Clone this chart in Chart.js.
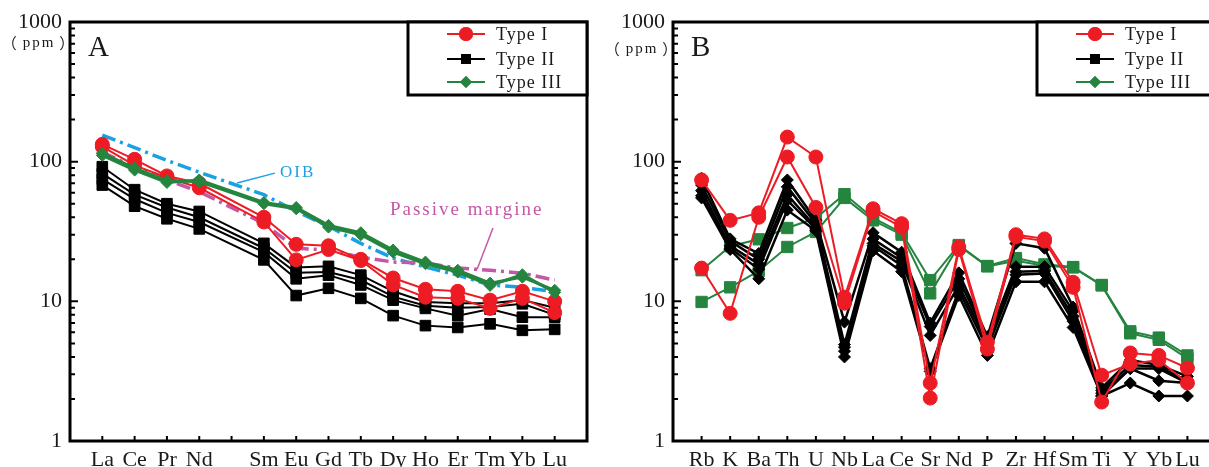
<!DOCTYPE html>
<html>
<head>
<meta charset="utf-8">
<script src="https://cdn.jsdelivr.net/npm/chart.js@4.4.1/dist/chart.umd.min.js"></script>
<style>
  html { margin: 0; padding: 0; overflow: hidden; background: #fff; }
  body { margin: 0; padding: 0; background: #fff; width: 1300px; height: 467px; position: relative; }
  #boxA { position: absolute; left: 0; top: 0; width: 600px; height: 467px; }
  #boxB { position: absolute; left: 600px; top: 0; width: 616px; height: 467px; }
  canvas { display: block; }
</style>
</head>
<body>
<div id="boxA"><canvas id="chartA" width="600" height="467" style="width:600px;height:467px"></canvas></div>
<div id="boxB"><canvas id="chartB" width="616" height="467" style="width:616px;height:467px"></canvas></div>
<script>
// ---- data: panel A (REE, chondrite normalised) ----
const reeLabels = ['La', 'Ce', 'Pr', 'Nd', '', 'Sm', 'Eu', 'Gd', 'Tb', 'Dy', 'Ho', 'Er', 'Tm', 'Yb', 'Lu'];

const typeIRee = [
  [133, 104, 79, 70, null, 40, 25.6, 25, 20, 14.7, 12.2, 11.8, 10.2, 11.8, 10.0],
  [128, 94, 77, 65, null, 37, 19.8, 23.5, 19.6, 13.1, 10.7, 10.5, 8.9, 10.5, 8.3]
];
const typeIIRee = [
  [92, 63, 50, 44, null, 26, 17.5, 17.8, 15.4, 11.8, 9.9, 9.7, 9.7, 10.2, 9.0],
  [82, 58, 47, 40, null, 24, 16, 16.2, 14.2, 10.8, 9.3, 9.0, 9.1, 9.6, 8.0],
  [75, 54, 43, 37, null, 22.5, 14.5, 15.4, 13.1, 10.2, 8.9, 7.9, 8.8, 7.7, 7.7],
  [68, 48, 39, 33, null, 19.8, 11, 12.4, 10.5, 7.9, 6.7, 6.5, 6.9, 6.2, 6.3]
];
const typeIIIRee = [
  [111, 87, 71, 74, null, 51, 47, 35, 31, 23.3, 19.1, 16.7, 13.5, 14.9, 12.0],
  [115, 90, 73, 72, null, 50, 46, 34, 30, 22.5, 18.6, 16.2, 13.0, 15.5, 11.6]
];
const oibRee = [155, 126, 102, 84, null, 58, 44, 34.5, 26, 20.4, 17.6, 15.4, 13.1, 12.6, 11.7];
const passiveRee = [117, 91, 74, 61, null, 36, 24, 23.3, 20.7, 19.1, 18.8, 17.3, 16.7, 15.9, 14.2];

// ---- data: panel B (trace elements) ----
const traceLabels = ['Rb', 'K', 'Ba', 'Th', 'U', 'Nb', 'La', 'Ce', 'Sr', 'Nd', 'P', 'Zr', 'Hf', 'Sm', 'Ti', 'Y', 'Yb', 'Lu'];

const typeITrace = [
  [74, 38, 43, 150, 108, 10.7, 46, 36, 2.6, 24.5, 5.1, 30, 28, 13.7, 2.96, 3.56, 3.8, 2.6],
  [17.3, 8.2, 40, 108, 47, 9.7, 44, 34, 2.03, 23.5, 4.55, 29, 27, 12.6, 1.9, 4.27, 4.1, 3.33]
];
const typeIITrace = [
  [76, 28, 22, 74, 38, 7.1, 31, 22.5, 7.0, 16, 5.6, 26, 24, 9.1, 2.4, 3.8, 3.5, 2.9],
  [68, 27, 20, 66, 36, 4.9, 28, 20.5, 6.6, 14.5, 5.3, 17.7, 17.7, 8.5, 2.3, 3.5, 3.4, 2.7],
  [62, 25, 18.5, 58, 34, 4.7, 26, 19.3, 5.7, 13, 5.0, 16.3, 16.5, 7.8, 2.2, 3.3, 3.3, 2.6],
  [57, 24, 17, 53, 33, 4.4, 25, 18, 3.3, 12, 4.6, 15.5, 15.8, 7.2, 2.1, 3.3, 2.7, 2.6],
  [55, 23.5, 14.5, 45, 32, 4.0, 23, 16.3, 3.15, 11, 4.1, 13.8, 13.8, 6.5, 2.1, 2.6, 2.1, 2.1]
];
const typeIIITrace = [
  [16.7, 24.8, 27.8, 33.5, 39.5, 58.5, 39.5, 31, 14.2, 25.3, 17.9, 20.4, 18.4, 17.6, 13.1, 6.1, 5.5, 4.1],
  [9.9, 12.6, 16.5, 24.5, 31.4, 55, 38, 30, 11.4, 25, 17.8, 19.5, 18, 17.5, 13.0, 5.9, 5.3, 3.9]
];

const yTicks = [1, 10, 100, 1000];
const legendNames = ['Type I', 'Type II', 'Type III'];

const RED = '#ed1c24';
const BLACK = '#000000';
const GREEN = '#25853f';
const BLUE = '#1ba1e2';
const MAGENTA = '#c558a6';
const SERIF = "'Liberation Serif', 'Times New Roman', serif";

Chart.defaults.font.family = SERIF;
Chart.defaults.color = '#1a1a1a';

function toPoints(values) {
  return values.map((v, i) => ({ x: i + 1, y: v }));
}

function sample(values, color, style, radius, width) {
  return {
    data: toPoints(values),
    borderColor: color,
    backgroundColor: color,
    borderWidth: width,
    pointStyle: style,
    pointRadius: radius,
    pointBorderWidth: 1,
    pointBorderColor: color,
    pointBackgroundColor: color,
    spanGaps: true,
    tension: 0
  };
}

function reference(values, color, width) {
  return {
    data: toPoints(values),
    borderColor: color,
    borderWidth: width,
    borderDash: [14, 5, 3, 5],
    pointRadius: 0,
    spanGaps: true,
    tension: 0
  };
}

// Frame, inward ticks, legend box and text annotations
const decorations = {
  id: 'decorations',
  afterDraw(chart, args, opts) {
    const { ctx, chartArea: { left, right, top, bottom }, scales: { x, y } } = chart;
    ctx.save();

    // minor / major ticks on y (inward)
    ctx.strokeStyle = '#000';
    ctx.lineWidth = 2;
    ctx.beginPath();
    for (let d = 1; d < 1000; d *= 10) {
      for (let m = 1; m < 10; m++) {
        const py = y.getPixelForValue(d * m);
        ctx.moveTo(left, py);
        ctx.lineTo(left + (m === 1 ? 8 : 5), py);
      }
    }
    // x ticks (inward)
    for (let i = 1; i <= opts.count; i++) {
      const px = x.getPixelForValue(i);
      ctx.moveTo(px, bottom);
      ctx.lineTo(px, bottom - 5);
    }
    ctx.stroke();

    // frame
    ctx.lineWidth = 3;
    ctx.strokeRect(left, top, right - left, bottom - top);

    // unit label  （ppm）
    ctx.fillStyle = '#1a1a1a';
    const cx = left - 32, cy = top + opts.unitDy;
    ctx.font = '15px ' + SERIF;
    ctx.letterSpacing = '2px';
    ctx.textBaseline = 'middle';
    ctx.textAlign = 'center';
    ctx.fillText('ppm', cx + 1, cy);
    const pw = ctx.measureText('ppm').width;
    ctx.letterSpacing = '0px';
    ctx.textAlign = 'left';
    ctx.font = "15px 'Noto Sans CJK SC', sans-serif";
    const lp = ctx.measureText('（');
    ctx.fillText('（', cx - pw / 2 - 5 - lp.actualBoundingBoxRight, cy);
    const rp = ctx.measureText('）');
    ctx.fillText('）', cx + pw / 2 + 5 + rp.actualBoundingBoxLeft, cy);

    // panel letter
    ctx.font = '29px ' + SERIF;
    ctx.textAlign = 'left';
    ctx.textBaseline = 'alphabetic';
    ctx.fillText(opts.letter, left + 18, top + 34);

    // legend box
    const bx = right - 179, by = top, bh = 73;
    ctx.fillStyle = '#fff';
    ctx.fillRect(bx, by, right - bx, bh);
    ctx.lineWidth = 3;
    ctx.strokeStyle = '#000';
    ctx.strokeRect(bx, by, right - bx, bh);
    const rows = [12, 37, 60];
    const markers = [
      { color: RED, style: 'circle', r: 7 },
      { color: BLACK, style: 'rect', r: 7 },
      { color: GREEN, style: 'rectRot', r: 6 }
    ];
    ctx.font = '18px ' + SERIF;
    ctx.letterSpacing = '1px';
    legendNames.forEach((name, i) => {
      const ly = by + rows[i];
      const mk = markers[i];
      ctx.strokeStyle = mk.color;
      ctx.lineWidth = 2;
      ctx.beginPath();
      ctx.moveTo(bx + 39, ly);
      ctx.lineTo(bx + 77, ly);
      ctx.stroke();
      ctx.fillStyle = mk.color;
      Chart.helpers.drawPoint(ctx, { pointStyle: mk.style, radius: mk.r, rotation: 0, borderWidth: 0 }, bx + 58, ly);
      ctx.fill();
      ctx.fillStyle = '#1a1a1a';
      ctx.textBaseline = 'middle';
      ctx.fillText(name, bx + 88, ly + 1);
    });

    // text annotations with leader lines
    (opts.notes || []).forEach(n => {
      ctx.strokeStyle = n.color;
      ctx.lineWidth = 1.5;
      ctx.beginPath();
      ctx.moveTo(x.getPixelForValue(n.from[0]), y.getPixelForValue(n.from[1]));
      ctx.lineTo(x.getPixelForValue(n.to[0]), y.getPixelForValue(n.to[1]));
      ctx.stroke();
      ctx.fillStyle = n.color;
      ctx.font = n.size + 'px ' + SERIF;
      ctx.letterSpacing = n.spacing;
      ctx.textAlign = 'left';
      ctx.textBaseline = 'middle';
      ctx.fillText(n.text, x.getPixelForValue(n.at[0]), y.getPixelForValue(n.at[1]));
    });

    ctx.restore();
  }
};

function buildOptions(labels, yWidth, padRight, letter, unitDy, notes) {
  return {
    responsive: false,
    animation: false,
    events: [],
    layout: { autoPadding: false, padding: { top: 22, right: padRight, left: 0, bottom: 0 } },
    plugins: {
      legend: { display: false },
      tooltip: { enabled: false },
      decorations: { count: labels.length, letter, unitDy, notes }
    },
    scales: {
      x: {
        type: 'linear',
        min: 0,
        max: labels.length + 1,
        afterBuildTicks: s => { s.ticks = labels.map((_, i) => ({ value: i + 1 })); },
        afterFit: s => { s.height = 26; s.paddingLeft = 0; s.paddingRight = 0; },
        grid: { display: false, drawTicks: false },
        border: { display: false },
        ticks: {
          autoSkip: false,
          maxRotation: 0,
          padding: 6,
          font: { size: 22 },
          callback: v => labels[v - 1]
        }
      },
      y: {
        type: 'logarithmic',
        min: 1,
        max: 1000,
        afterBuildTicks: s => { s.ticks = yTicks.map(v => ({ value: v })); },
        afterFit: s => { s.width = yWidth; s.paddingTop = 0; s.paddingBottom = 0; },
        grid: { display: false, drawTicks: false },
        border: { display: false },
        ticks: {
          padding: 8,
          font: { size: 22 },
          callback: v => String(v)
        }
      }
    }
  };
}

new Chart(document.getElementById('chartA'), {
  type: 'line',
  data: {
    datasets: [
      ...typeIIIRee.map(v => sample(v, GREEN, 'rectRot', 6, 3)),
      ...typeIRee.map(v => sample(v, RED, 'circle', 7, 2)),
      ...typeIIRee.map(v => sample(v, BLACK, 'rect', 7.5, 2)),
      reference(passiveRee, MAGENTA, 3.5),
      reference(oibRee, BLUE, 3.5)
    ]
  },
  options: buildOptions(reeLabels, 70, 13, 'A', 21, [
    { text: 'OIB', color: BLUE, size: 17, spacing: '2px', at: [6.5, 84], from: [6.34, 82.8], to: [5.17, 70.3] },
    { text: 'Passive margine', color: MAGENTA, size: 19, spacing: '2px', at: [9.9, 45], from: [13.09, 33.5], to: [12.6, 17.0] }
  ]),
  plugins: [decorations]
});

new Chart(document.getElementById('chartB'), {
  type: 'line',
  data: {
    datasets: [
      ...typeITrace.map(v => sample(v, RED, 'circle', 7, 2)),
      ...typeIITrace.map(v => sample(v, BLACK, 'rectRot', 6, 2.5)),
      ...typeIIITrace.map(v => sample(v, GREEN, 'rect', 8, 2))
    ]
  },
  options: buildOptions(traceLabels, 73, 0, 'B', 27, []),
  plugins: [decorations]
});
</script>
</body>
</html>
